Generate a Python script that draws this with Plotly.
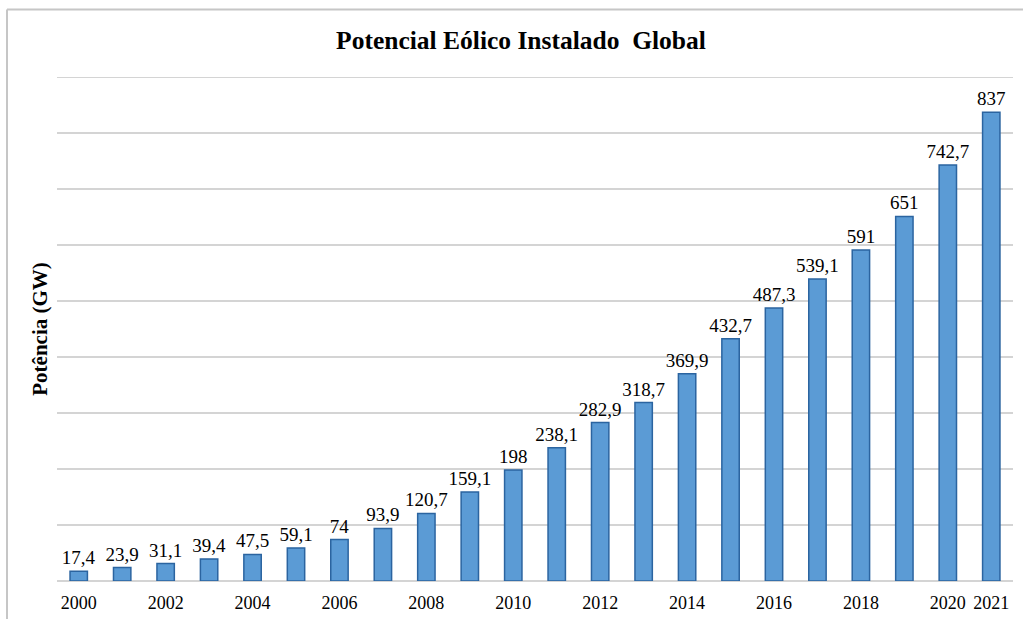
import plotly.graph_objects as go

years = [str(y) for y in range(2000, 2022)]
capacity_gw = [17.4, 23.9, 31.1, 39.4, 47.5, 59.1, 74, 93.9, 120.7, 159.1, 198,
               238.1, 282.9, 318.7, 369.9, 432.7, 487.3, 539.1, 591, 651, 742.7, 837]
tick_years = ["2000", "2002", "2004", "2006", "2008", "2010", "2012", "2014",
              "2016", "2018", "2020", "2021"]
labels = [f"{v:g}".replace(".", ",") for v in capacity_gw]

SERIF = "Liberation Serif, Times New Roman, serif"

fig = go.Figure(go.Bar(
    x=years, y=capacity_gw, text=labels, textposition="outside",
    cliponaxis=False,
    textfont=dict(family=SERIF, size=19, color="#000000"),
    marker=dict(color="#5b9bd5", line=dict(color="#2b64a0", width=1.5)),
    hoverinfo="x+y",
))

W, H = 1023, 619
L, R, T, B = 57, 10, 77, 38
pw, ph = W - L - R, H - T - B

def px(xp):
    return (xp - L) / pw

def py(yp):
    return (H - B - yp) / ph

fig.update_layout(
    width=W, height=H,
    margin=dict(l=L, r=R, t=T, b=B),
    paper_bgcolor="white", plot_bgcolor="white",
    bargap=0.6,
    showlegend=False,
    uniformtext=dict(minsize=19, mode="show"),
    title=dict(text="<b>Potencial Eólico Instalado  Global</b>",
               x=521 / W, xanchor="center", xref="container",
               y=1 - 40 / H, yanchor="middle", yref="container",
               font=dict(family=SERIF, size=25.5, color="#000000")),
    xaxis=dict(type="category", tickvals=tick_years, ticktext=tick_years,
               showgrid=False, ticks="", ticklabelstandoff=9, automargin=False,
               tickfont=dict(family=SERIF, size=18, color="#000000"),
               showline=False, zeroline=False),
    yaxis=dict(range=[0, 900], dtick=100, showticklabels=False, automargin=False,
               showgrid=True, gridcolor="#d4d4d4", gridwidth=2,
               zeroline=True, zerolinecolor="#d4d4d4", zerolinewidth=2,
               title=dict(text="<b>Potência (GW)</b>", standoff=2,
                          font=dict(family=SERIF, size=21, color="#000000"))),
    shapes=[
        dict(type="line", xref="paper", yref="y", layer="below",
             x0=0, x1=1, y0=900, y1=900,
             line=dict(color="#d4d4d4", width=2)),
        dict(type="line", xref="paper", yref="paper",
             x0=px(7), x1=px(1023), y0=py(9.5), y1=py(9.5),
             line=dict(color="#c6c6c6", width=2)),
        dict(type="line", xref="paper", yref="paper",
             x0=px(7), x1=px(7), y0=py(9.5), y1=py(619),
             line=dict(color="#c6c6c6", width=2)),
    ],
)

fig.write_html("out.html")
